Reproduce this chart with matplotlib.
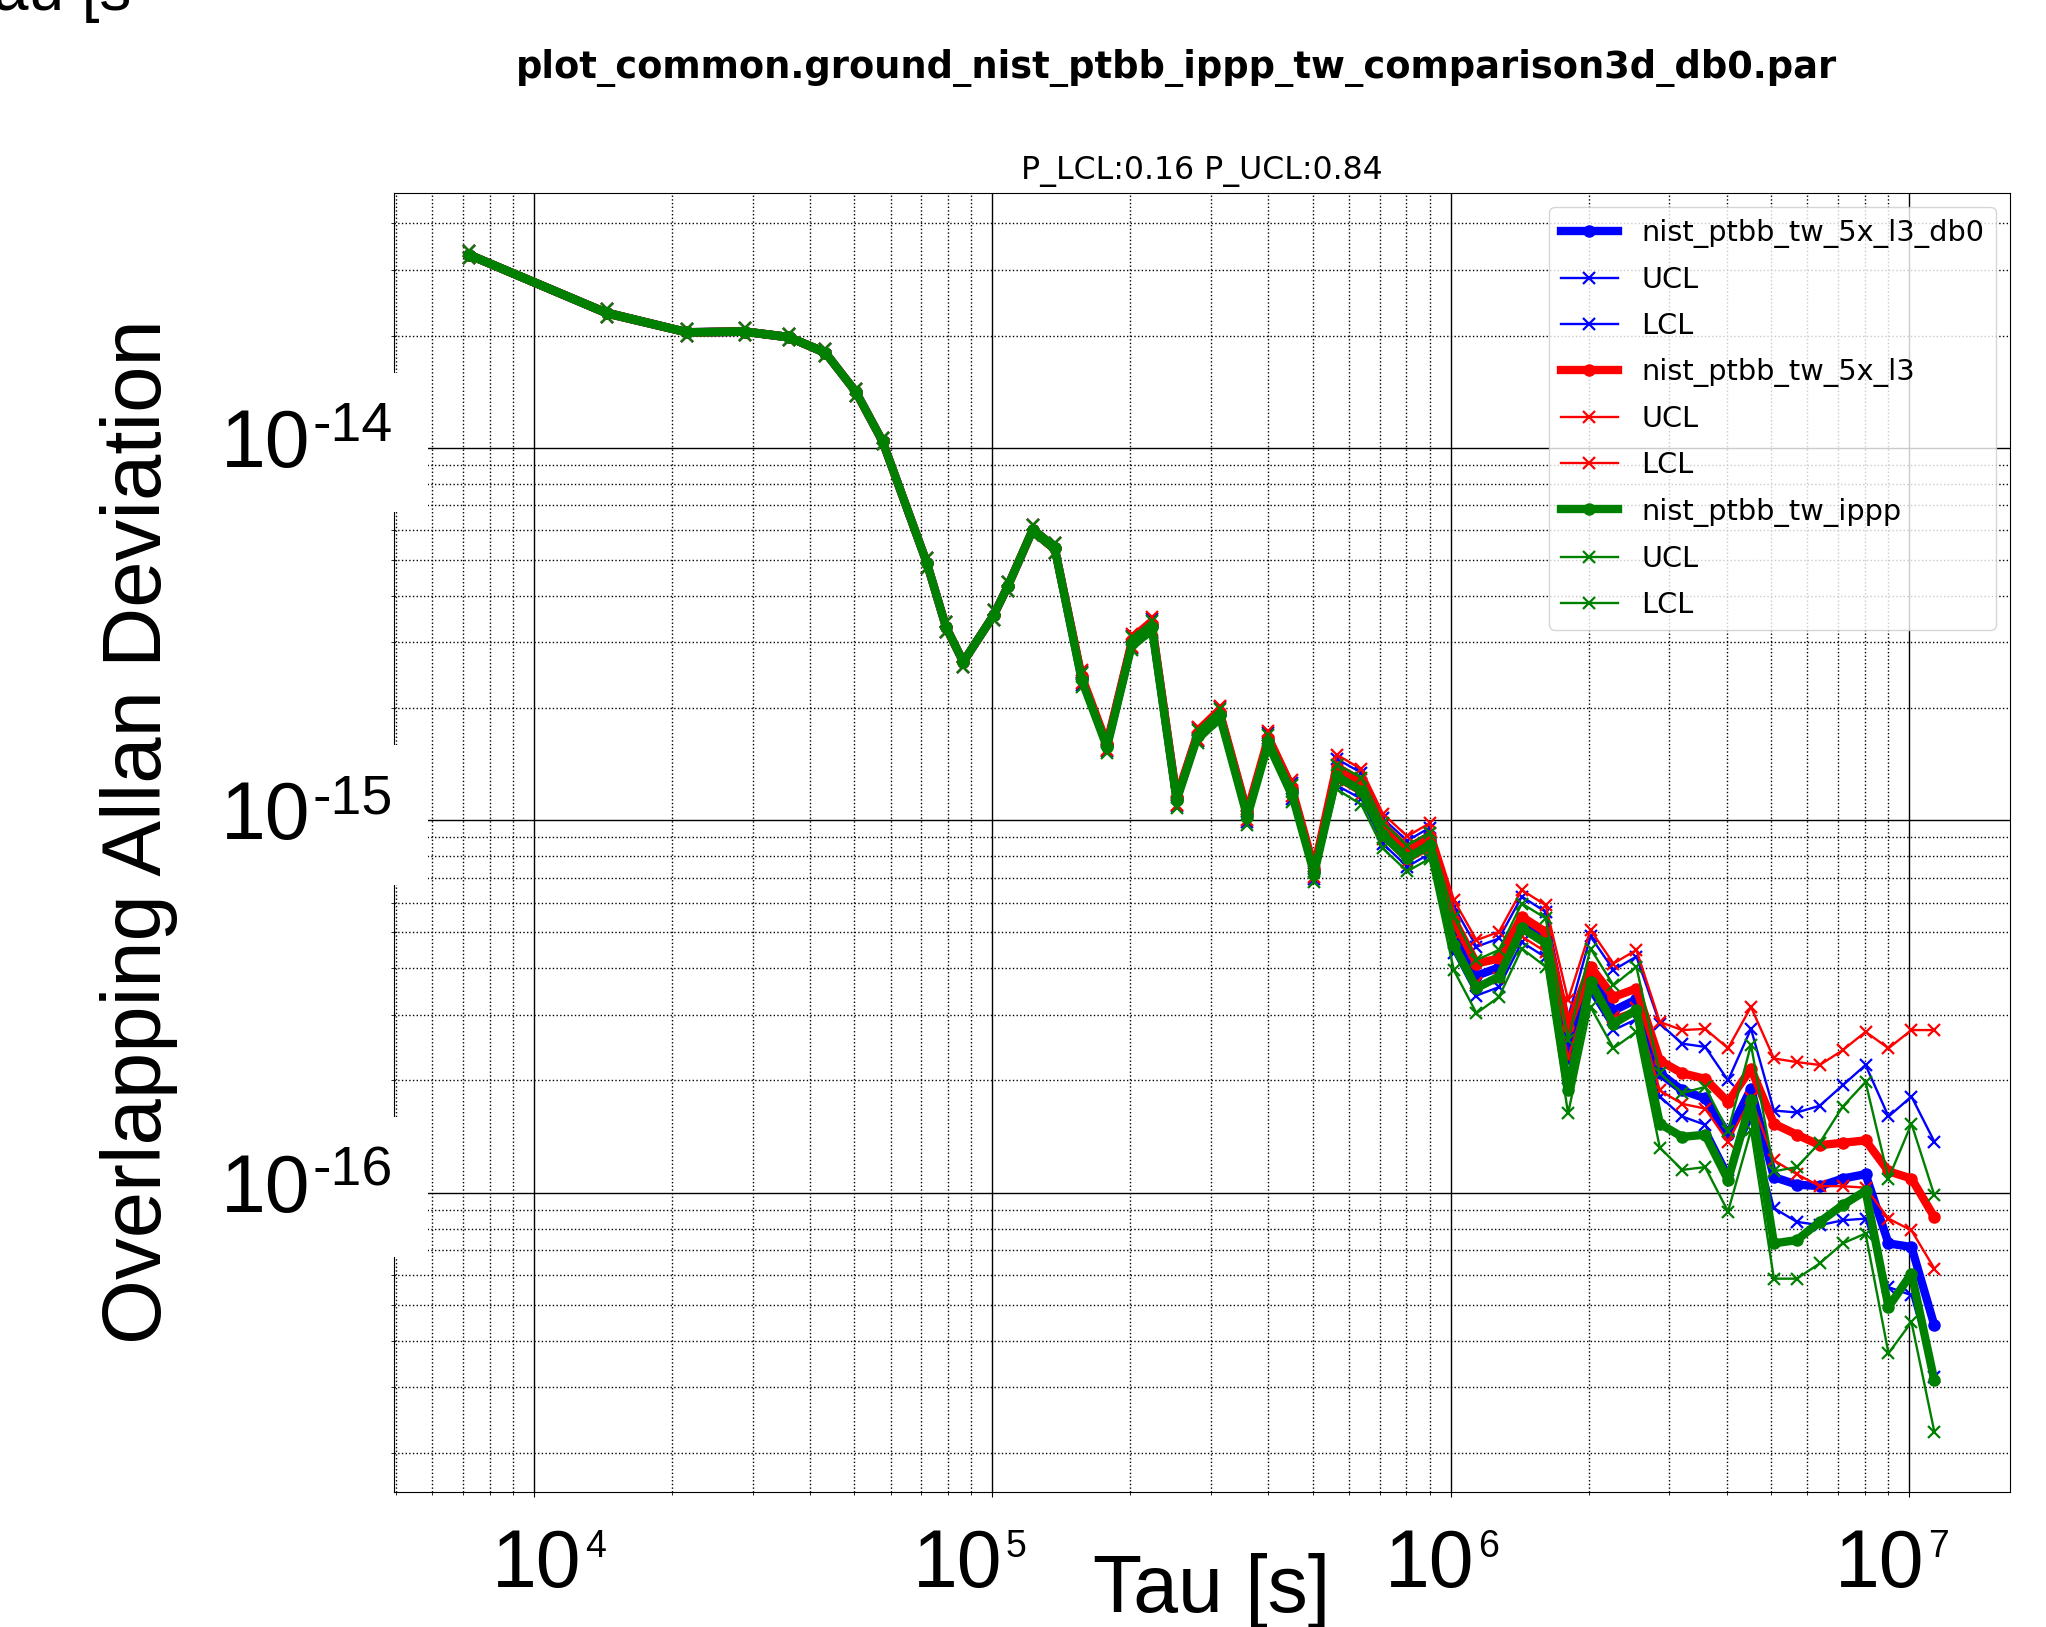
import matplotlib
matplotlib.use("Agg")
import matplotlib.pyplot as plt
import matplotlib.transforms as mtransforms
from matplotlib.patches import Rectangle

plt.rcParams['font.family'] = ['Liberation Sans', 'DejaVu Sans']

# averaging times [s]
taus = [7200, 14400, 21600, 28800, 36000, 43200, 50400, 57600, 72000, 79200,
        86400, 100800, 108000, 122400, 136800, 156600, 177800, 201800, 222800, 252300,
        280500, 313300, 359700, 399900, 449800, 503500, 563600, 638300, 711200, 803500,
        899500, 1016000, 1138000, 1274000, 1429000, 1611000, 1803000, 2018000, 2265000, 2541000,
        2858000, 3199000, 3589000, 4027000, 4519000, 5070000, 5689000, 6383000, 7161000, 8035000,
        9016000, 10120000, 11350000]

# nist_ptbb_tw_5x_l3_db0
db0_adev = [3.30e-14, 2.30e-14, 2.04e-14, 2.05e-14, 1.98e-14, 1.80e-14, 1.41e-14, 1.04e-14,
            4.89e-15, 3.30e-15, 2.66e-15, 3.56e-15, 4.24e-15, 6.01e-15, 5.37e-15,
            2.40e-15, 1.59e-15, 3.01e-15, 3.33e-15, 1.14e-15, 1.70e-15, 1.93e-15,
            1.04e-15, 1.63e-15, 1.20e-15, 7.30e-16,
            1.35e-15, 1.24e-15, 9.39e-16, 8.15e-16, 8.83e-16,
            4.98e-16, 3.82e-16, 4.02e-16, 5.31e-16, 4.84e-16, 2.29e-16, 3.86e-16, 3.08e-16, 3.30e-16,
            2.09e-16, 1.88e-16, 1.79e-16, 1.43e-16, 1.90e-16, 1.10e-16, 1.05e-16, 1.04e-16,
            1.09e-16, 1.12e-16, 7.30e-17, 7.14e-17, 4.40e-17]
db0_ucl = [3.37e-14, 2.35e-14, 2.08e-14, 2.09e-14, 2.02e-14, 1.84e-14, 1.44e-14, 1.06e-14,
           5.04e-15, 3.40e-15, 2.74e-15, 3.67e-15, 4.37e-15, 6.19e-15, 5.53e-15,
           2.50e-15, 1.65e-15, 3.13e-15, 3.46e-15, 1.19e-15, 1.77e-15, 2.01e-15,
           1.09e-15, 1.71e-15, 1.26e-15, 7.67e-16,
           1.46e-15, 1.34e-15, 1.01e-15, 8.80e-16, 9.54e-16,
           5.86e-16, 4.57e-16, 4.81e-16, 6.23e-16, 5.67e-16, 2.95e-16, 4.87e-16, 3.96e-16, 4.30e-16,
           2.84e-16, 2.51e-16, 2.46e-16, 2.00e-16, 2.75e-16, 1.66e-16, 1.64e-16, 1.71e-16,
           1.94e-16, 2.20e-16, 1.60e-16, 1.81e-16, 1.37e-16]
db0_lcl = [3.23e-14, 2.25e-14, 2.00e-14, 2.01e-14, 1.94e-14, 1.76e-14, 1.38e-14, 1.02e-14,
           4.74e-15, 3.20e-15, 2.58e-15, 3.45e-15, 4.11e-15, 5.83e-15, 5.21e-15,
           2.30e-15, 1.53e-15, 2.89e-15, 3.20e-15, 1.09e-15, 1.63e-15, 1.85e-15,
           9.88e-16, 1.55e-15, 1.14e-15, 6.94e-16,
           1.24e-15, 1.14e-15, 8.64e-16, 7.50e-16, 8.12e-16,
           4.41e-16, 3.38e-16, 3.56e-16, 4.70e-16, 4.28e-16, 2.03e-16, 3.42e-16, 2.73e-16, 2.92e-16,
           1.81e-16, 1.60e-16, 1.52e-16, 1.15e-16, 1.56e-16, 9.08e-17, 8.34e-17, 8.17e-17,
           8.42e-17, 8.51e-17, 5.57e-17, 5.30e-17, 3.20e-17]

# nist_ptbb_tw_5x_l3
l3_adev = [3.30e-14, 2.30e-14, 2.04e-14, 2.05e-14, 1.98e-14, 1.80e-14, 1.41e-14, 1.04e-14,
           4.89e-15, 3.30e-15, 2.66e-15, 3.56e-15, 4.24e-15, 6.01e-15, 5.37e-15,
           2.43e-15, 1.60e-15, 3.04e-15, 3.37e-15, 1.15e-15, 1.71e-15, 1.95e-15,
           1.05e-15, 1.66e-15, 1.22e-15, 7.41e-16,
           1.39e-15, 1.27e-15, 9.67e-16, 8.38e-16, 9.08e-16,
           5.39e-16, 4.12e-16, 4.25e-16, 5.50e-16, 5.01e-16, 2.78e-16, 4.04e-16, 3.35e-16, 3.53e-16,
           2.26e-16, 2.09e-16, 2.02e-16, 1.75e-16, 2.15e-16, 1.53e-16, 1.43e-16, 1.34e-16,
           1.36e-16, 1.38e-16, 1.14e-16, 1.09e-16, 8.59e-17]
l3_ucl = [3.37e-14, 2.35e-14, 2.08e-14, 2.09e-14, 2.02e-14, 1.84e-14, 1.44e-14, 1.06e-14,
          5.04e-15, 3.40e-15, 2.74e-15, 3.67e-15, 4.37e-15, 6.19e-15, 5.53e-15,
          2.53e-15, 1.66e-15, 3.16e-15, 3.50e-15, 1.20e-15, 1.78e-15, 2.03e-15,
          1.10e-15, 1.74e-15, 1.28e-15, 7.78e-16,
          1.50e-15, 1.37e-15, 1.04e-15, 9.05e-16, 9.81e-16,
          6.10e-16, 4.76e-16, 5.01e-16, 6.49e-16, 5.91e-16, 3.29e-16, 5.07e-16, 4.12e-16, 4.48e-16,
          2.87e-16, 2.73e-16, 2.75e-16, 2.44e-16, 3.15e-16, 2.29e-16, 2.24e-16, 2.20e-16,
          2.41e-16, 2.70e-16, 2.44e-16, 2.73e-16, 2.73e-16]
l3_lcl = [3.23e-14, 2.25e-14, 2.00e-14, 2.01e-14, 1.94e-14, 1.76e-14, 1.38e-14, 1.02e-14,
          4.74e-15, 3.20e-15, 2.58e-15, 3.45e-15, 4.11e-15, 5.83e-15, 5.21e-15,
          2.33e-15, 1.54e-15, 2.92e-15, 3.24e-15, 1.10e-15, 1.64e-15, 1.87e-15,
          9.98e-16, 1.58e-15, 1.16e-15, 7.04e-16,
          1.28e-15, 1.17e-15, 8.90e-16, 7.71e-16, 8.35e-16,
          4.77e-16, 3.65e-16, 3.76e-16, 4.87e-16, 4.43e-16, 2.30e-16, 3.58e-16, 2.96e-16, 3.12e-16,
          1.88e-16, 1.73e-16, 1.68e-16, 1.37e-16, 1.79e-16, 1.22e-16, 1.12e-16, 1.04e-16,
          1.04e-16, 1.03e-16, 8.51e-17, 7.91e-17, 6.25e-17]

# nist_ptbb_tw_ippp
ippp_adev = [3.30e-14, 2.30e-14, 2.04e-14, 2.05e-14, 1.98e-14, 1.80e-14, 1.41e-14, 1.04e-14,
             4.89e-15, 3.30e-15, 2.66e-15, 3.56e-15, 4.24e-15, 6.01e-15, 5.37e-15,
             2.38e-15, 1.57e-15, 2.98e-15, 3.30e-15, 1.13e-15, 1.68e-15, 1.91e-15,
             1.02e-15, 1.61e-15, 1.18e-15, 7.19e-16,
             1.31e-15, 1.20e-15, 9.12e-16, 7.91e-16, 8.57e-16,
             4.61e-16, 3.54e-16, 3.80e-16, 5.12e-16, 4.67e-16, 1.88e-16, 3.68e-16, 2.84e-16, 3.09e-16,
             1.53e-16, 1.41e-16, 1.43e-16, 1.08e-16, 1.77e-16, 7.30e-17, 7.45e-17, 8.34e-17,
             9.25e-17, 1.01e-16, 4.93e-17, 6.06e-17, 3.13e-17]
ippp_ucl = [3.37e-14, 2.35e-14, 2.08e-14, 2.09e-14, 2.02e-14, 1.84e-14, 1.44e-14, 1.06e-14,
            5.04e-15, 3.40e-15, 2.74e-15, 3.67e-15, 4.37e-15, 6.19e-15, 5.53e-15,
            2.48e-15, 1.63e-15, 3.10e-15, 3.43e-15, 1.18e-15, 1.75e-15, 1.99e-15,
            1.07e-15, 1.69e-15, 1.24e-15, 7.55e-16,
            1.41e-15, 1.30e-15, 9.85e-16, 8.54e-16, 9.26e-16,
            5.50e-16, 4.21e-16, 4.48e-16, 5.97e-16, 5.45e-16, 2.57e-16, 4.52e-16, 3.60e-16, 4.04e-16,
            2.09e-16, 1.85e-16, 1.92e-16, 1.46e-16, 2.49e-16, 1.14e-16, 1.17e-16, 1.36e-16,
            1.70e-16, 1.98e-16, 1.09e-16, 1.53e-16, 9.84e-17]
ippp_lcl = [3.23e-14, 2.25e-14, 2.00e-14, 2.01e-14, 1.94e-14, 1.76e-14, 1.38e-14, 1.02e-14,
            4.74e-15, 3.20e-15, 2.58e-15, 3.45e-15, 4.11e-15, 5.83e-15, 5.21e-15,
            2.28e-15, 1.51e-15, 2.86e-15, 3.17e-15, 1.08e-15, 1.61e-15, 1.83e-15,
            9.69e-16, 1.53e-15, 1.12e-15, 6.83e-16,
            1.21e-15, 1.10e-15, 8.39e-16, 7.28e-16, 7.88e-16,
            3.95e-16, 3.03e-16, 3.35e-16, 4.52e-16, 4.04e-16, 1.63e-16, 3.15e-16, 2.44e-16, 2.70e-16,
            1.32e-16, 1.15e-16, 1.17e-16, 8.89e-17, 1.47e-16, 5.87e-17, 5.87e-17, 6.45e-17,
            7.30e-17, 7.76e-17, 3.70e-17, 4.49e-17, 2.28e-17]

series = [
    ('nist_ptbb_tw_5x_l3_db0', 'blue', db0_adev, db0_ucl, db0_lcl),
    ('nist_ptbb_tw_5x_l3', 'red', l3_adev, l3_ucl, l3_lcl),
    ('nist_ptbb_tw_ippp', 'green', ippp_adev, ippp_ucl, ippp_lcl),
]

x_decades = [4, 5, 6, 7]
y_decades = [-14, -15, -16]
# the pasted tick labels of the original sit a little off their ticks (points)
x_label_nudge = [17, -10, 0, -6]

fig = plt.figure(figsize=(20.46, 16.27), dpi=100)
ax = fig.add_axes([0.1926, 0.0830, 0.7898, 0.7984])

for name, c, adev, ucl, lcl in series:
    ax.loglog(taus, adev, '-o', color=c, lw=6, ms=8, label=name)
    ax.loglog(taus, ucl, '-x', color=c, lw=1.7, ms=9, mew=1.6, label='UCL')
    ax.loglog(taus, lcl, '-x', color=c, lw=1.7, ms=9, mew=1.6, label='LCL')

ax.set_xlim(4950, 1.66e7)
ax.set_ylim(1.57e-17, 4.83e-14)
ax.grid(which='major', color='k', ls='-', lw=1.0)
ax.grid(which='minor', color='k', ls=':', lw=1.0)
ax.tick_params(labelbottom=False, labelleft=False)

# y tick labels on white patches that hide the spine, like the original
ytr = mtransforms.blended_transform_factory(ax.transAxes, ax.transData)
for e in y_decades:
    v = 10.0 ** e
    ax.add_patch(Rectangle((-0.13, v / 1.49), 0.151, v * 1.59 - v / 1.49, transform=ytr,
                           fc='white', ec='none', clip_on=False, zorder=4))
    ax.annotate('10', xy=(0, v), xycoords=ytr, xytext=(-60.5, -13.7),
                textcoords='offset points', ha='right', va='baseline', fontsize=58,
                zorder=5, annotation_clip=False)
    ax.annotate('-%d' % -e, xy=(0, v), xycoords=ytr, xytext=(-1, 4.8),
                textcoords='offset points', ha='right', va='baseline', fontsize=40,
                zorder=5, annotation_clip=False)

xtr = mtransforms.blended_transform_factory(ax.transData, ax.transAxes)
for e, dx in zip(x_decades, x_label_nudge):
    ax.annotate('10', xy=(10.0 ** e, 0), xycoords=xtr, xytext=(17 + dx, -68.4),
                textcoords='offset points', ha='right', va='baseline', fontsize=58,
                annotation_clip=False)
    ax.annotate('%d' % e, xy=(10.0 ** e, 0), xycoords=xtr, xytext=(19.5 + dx, -26.6),
                textcoords='offset points', ha='left', va='top', fontsize=27,
                annotation_clip=False)

ax.set_title('P_LCL:0.16 P_UCL:0.84', fontsize=22.7, family='DejaVu Sans', pad=10)
ax.legend(loc='upper right', prop={'family': 'DejaVu Sans', 'size': 20.7},
          labelspacing=0.63)

fig.text(0.575, 0.952, 'plot_common.ground_nist_ptbb_ippp_tw_comparison3d_db0.par',
         fontsize=26.5, fontweight='bold', family='DejaVu Sans', ha='center', va='baseline')
fig.text(0.592, 0.0092, 'Tau [s]', fontsize=58, ha='center', va='baseline')
fig.text(0.068, 0.489, 'Overlapping Allan Deviation', fontsize=60, rotation=90,
         ha='center', va='center')
fig.text(-0.019, 0.9939, 'Tau [s', fontsize=46, ha='left', va='baseline')

fig.savefig('out.png', dpi=100)
